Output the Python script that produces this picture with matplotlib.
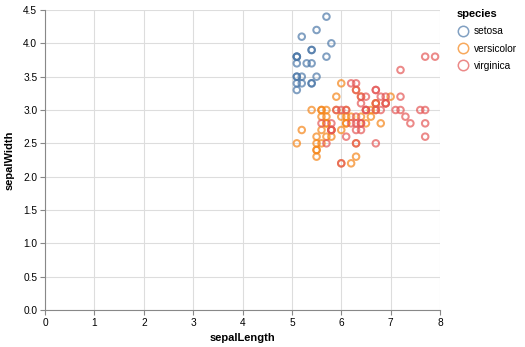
import matplotlib
matplotlib.use("Agg")
import matplotlib.pyplot as plt
from matplotlib.lines import Line2D

plt.rcParams['font.family'] = ['Liberation Sans', 'DejaVu Sans']

# iris, sepalLength > 5
setosa_len = [5.1, 5.4, 5.4, 5.8, 5.7, 5.4, 5.1, 5.7, 5.1, 5.4, 5.1, 5.1,
              5.2, 5.2, 5.4, 5.2, 5.5, 5.5, 5.1, 5.1, 5.1, 5.3]
setosa_wid = [3.5, 3.9, 3.7, 4.0, 4.4, 3.9, 3.5, 3.8, 3.8, 3.4, 3.7, 3.3,
              3.5, 3.4, 3.4, 4.1, 4.2, 3.5, 3.4, 3.8, 3.8, 3.7]

versicolor_len = [7.0, 6.4, 6.9, 5.5, 6.5, 5.7, 6.3, 6.6, 5.2, 5.9, 6.0, 6.1,
                  5.6, 6.7, 5.6, 5.8, 6.2, 5.6, 5.9, 6.1, 6.3, 6.1, 6.4, 6.6,
                  6.8, 6.7, 6.0, 5.7, 5.5, 5.5, 5.8, 6.0, 5.4, 6.0, 6.7, 6.3,
                  5.6, 5.5, 5.5, 6.1, 5.8, 5.6, 5.7, 5.7, 6.2, 5.1, 5.7]
versicolor_wid = [3.2, 3.2, 3.1, 2.3, 2.8, 2.8, 3.3, 2.9, 2.7, 3.0, 2.2, 2.9,
                  2.9, 3.1, 3.0, 2.7, 2.2, 2.5, 3.2, 2.8, 2.5, 2.8, 2.9, 3.0,
                  2.8, 3.0, 2.9, 2.6, 2.4, 2.4, 2.7, 2.7, 3.0, 3.4, 3.1, 2.3,
                  3.0, 2.5, 2.6, 3.0, 2.6, 2.7, 3.0, 2.9, 2.9, 2.5, 2.8]

virginica_len = [6.3, 5.8, 7.1, 6.3, 6.5, 7.6, 7.3, 6.7, 7.2, 6.5, 6.4, 6.8,
                 5.7, 5.8, 6.4, 6.5, 7.7, 7.7, 6.0, 6.9, 5.6, 7.7, 6.3, 6.7,
                 7.2, 6.2, 6.1, 6.4, 7.2, 7.4, 7.9, 6.4, 6.3, 6.1, 7.7, 6.3,
                 6.4, 6.0, 6.9, 6.7, 6.9, 5.8, 6.8, 6.7, 6.7, 6.3, 6.5, 6.2, 5.9]
virginica_wid = [3.3, 2.7, 3.0, 2.9, 3.0, 3.0, 2.9, 2.5, 3.6, 3.2, 2.7, 3.0,
                 2.5, 2.8, 3.2, 3.0, 3.8, 2.6, 2.2, 3.2, 2.8, 2.8, 2.7, 3.3,
                 3.2, 2.8, 3.0, 2.8, 3.0, 2.8, 3.8, 2.8, 2.8, 2.6, 3.0, 3.4,
                 3.1, 3.0, 3.1, 3.1, 3.1, 2.7, 3.2, 3.3, 3.0, 2.5, 3.0, 3.4, 3.0]

species = ['setosa', 'versicolor', 'virginica']
colors = ['#4c78a8', '#f58518', '#e45756']
series = [(setosa_len, setosa_wid), (versicolor_len, versicolor_wid),
          (virginica_len, virginica_wid)]

W, H = 525, 347
fig = plt.figure(figsize=(W / 100, H / 100), dpi=100)
ax = fig.add_axes([45 / W, 37 / H, 395 / W, 300 / H])

for (xs, ys), c in zip(series, colors):
    ax.scatter(xs, ys, s=22, facecolors='none', edgecolors=c,
               linewidths=1.45, alpha=0.7, zorder=3)

ax.set_xlim(0, 8)
ax.set_ylim(0, 4.5)
ax.set_xticks(range(0, 9))
ax.set_yticks([i * 0.5 for i in range(10)])
ax.set_yticklabels([f"{i * 0.5:.1f}" for i in range(10)])
ax.grid(True, color='#dddddd', linewidth=0.8, zorder=0)
ax.set_axisbelow(True)
for side in ['top', 'right']:
    ax.spines[side].set_visible(False)
for side in ['left', 'bottom']:
    ax.spines[side].set_color('#888888')
    ax.spines[side].set_linewidth(0.8)
ax.tick_params(colors='#888888', labelcolor='black', length=3.6, width=0.8,
               labelsize=7.3, pad=2)
ax.set_xlabel('sepalLength', fontsize=8, fontweight='bold', labelpad=4)
ax.set_ylabel('sepalWidth', fontsize=8, fontweight='bold', labelpad=6)

handles = [Line2D([], [], marker='o', linestyle='none', markersize=7.5,
                  markerfacecolor='none', markeredgecolor=c,
                  markeredgewidth=1.1, alpha=0.7) for c in colors]
leg = fig.legend(handles, species, title='species', loc='upper left',
                 bbox_to_anchor=(457 / W, 1 - 9 / H), frameon=False,
                 fontsize=7.3, handletextpad=0.45, handlelength=1.2,
                 labelspacing=0.72, borderaxespad=0, borderpad=0,
                 alignment='left')
leg.get_title().set_fontweight('bold')
leg.get_title().set_fontsize(8)

fig.savefig('out.png', dpi=100)
